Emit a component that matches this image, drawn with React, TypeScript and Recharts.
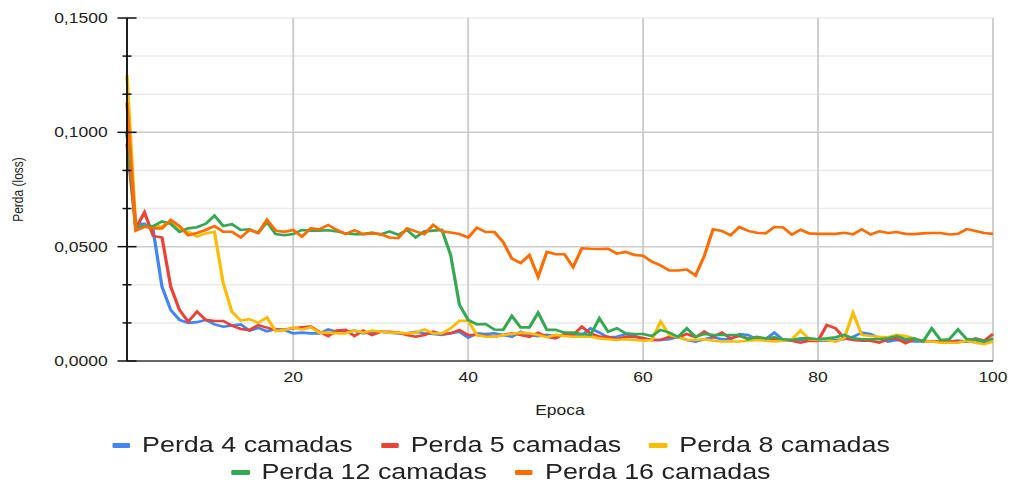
import React from "react";
import { LineChart, Line, XAxis, YAxis, ReferenceLine } from "recharts";

// epochs 1..100
const epochs = Array.from({ length: 100 }, (_, i) => i + 1);

const perda4 = [
  0.1, 0.06, 0.06, 0.057, 0.0325, 0.0223, 0.018, 0.0167, 0.017, 0.018,
  0.016, 0.015, 0.0155, 0.016, 0.0132, 0.0145, 0.013, 0.014, 0.0135, 0.0121,
  0.0124, 0.0121, 0.0121, 0.0138, 0.0128, 0.0128, 0.0133, 0.0121, 0.0128, 0.0128,
  0.0124, 0.0121, 0.0121, 0.0128, 0.0121, 0.0118, 0.0114, 0.0121, 0.0128, 0.0102,
  0.0121, 0.0118, 0.0121, 0.0114, 0.0106, 0.0128, 0.0114, 0.0109, 0.0114, 0.0109,
  0.0114, 0.0114, 0.0114, 0.0143, 0.0124, 0.0104, 0.0106, 0.0118, 0.0109, 0.0099,
  0.0092, 0.0092, 0.0095, 0.0106, 0.0092, 0.0085, 0.0095, 0.0104, 0.0095, 0.0095,
  0.0118, 0.0114, 0.0095, 0.0095, 0.0124, 0.0092, 0.0092, 0.0092, 0.0095, 0.0089,
  0.0089, 0.0092, 0.0095, 0.0106, 0.0124, 0.0118, 0.0099, 0.0085, 0.0092, 0.0089,
  0.0085, 0.0085, 0.0085, 0.0085, 0.0085, 0.0089, 0.0085, 0.0092, 0.0078, 0.0085,
];

const perda5 = [
  0.095, 0.058, 0.065, 0.0547, 0.054, 0.0325, 0.0223, 0.0172, 0.0216, 0.018,
  0.0175, 0.0175, 0.0155, 0.014, 0.0135, 0.0157, 0.0146, 0.0135, 0.0138, 0.0143,
  0.0147, 0.015, 0.0128, 0.0109, 0.0133, 0.0136, 0.0109, 0.0133, 0.0114, 0.0128,
  0.0128, 0.0124, 0.0114, 0.0106, 0.0114, 0.0128, 0.0118, 0.0121, 0.0136, 0.0114,
  0.0114, 0.0109, 0.0106, 0.0114, 0.0121, 0.0114, 0.0106, 0.0124, 0.0106, 0.0099,
  0.0118, 0.0114, 0.015, 0.0121, 0.0106, 0.0106, 0.0095, 0.0106, 0.0106, 0.0099,
  0.0092, 0.0092, 0.0106, 0.0104, 0.0118, 0.0104, 0.0128, 0.0106, 0.0124, 0.0099,
  0.0109, 0.0099, 0.0095, 0.0099, 0.0095, 0.0092, 0.0089, 0.008, 0.0089, 0.0088,
  0.0157, 0.0143, 0.0099, 0.0092, 0.0089, 0.0089, 0.008, 0.0095, 0.0099, 0.0078,
  0.0095, 0.0089, 0.0085, 0.0085, 0.0085, 0.0085, 0.0085, 0.0099, 0.0089, 0.0118,
];

const perda8 = [
  0.125, 0.0587, 0.059, 0.0587, 0.059, 0.0608, 0.057, 0.0565, 0.0544, 0.0558,
  0.0565, 0.034, 0.0215, 0.0177, 0.0183, 0.0167, 0.019, 0.0131, 0.0135, 0.0147,
  0.0138, 0.0147, 0.0124, 0.0124, 0.0121, 0.0121, 0.0133, 0.0124, 0.0133, 0.0128,
  0.0124, 0.0124, 0.0121, 0.0124, 0.0138, 0.0121, 0.0121, 0.0143, 0.0176, 0.0176,
  0.0114, 0.0106, 0.0106, 0.0114, 0.0118, 0.0124, 0.0121, 0.0114, 0.0104, 0.0114,
  0.0109, 0.0106, 0.0106, 0.0106, 0.0099, 0.0095, 0.0092, 0.0095, 0.0092, 0.0089,
  0.0092, 0.0172, 0.0114, 0.0104, 0.0092, 0.0092, 0.0095, 0.0089, 0.0085, 0.0085,
  0.0085, 0.0089, 0.0092, 0.0089, 0.0085, 0.0089, 0.0095, 0.0133, 0.0095, 0.0092,
  0.0092, 0.0085, 0.0099, 0.0211, 0.0114, 0.0109, 0.0106, 0.0104, 0.0114, 0.0109,
  0.0099, 0.0085, 0.0085, 0.008, 0.008, 0.008, 0.0089, 0.008, 0.0074, 0.0085,
];

const perda12 = [
  0.1, 0.0587, 0.059, 0.059, 0.061, 0.06, 0.0565, 0.058, 0.0585, 0.06,
  0.0636, 0.059, 0.0598, 0.0573, 0.0576, 0.056, 0.0608, 0.0555, 0.055, 0.0555,
  0.0573, 0.057, 0.057, 0.0572, 0.0567, 0.0558, 0.0555, 0.0555, 0.0562, 0.0553,
  0.0567, 0.0552, 0.0573, 0.054, 0.0567, 0.057, 0.0573, 0.0464, 0.0246, 0.018,
  0.016, 0.0162, 0.0138, 0.0136, 0.0197, 0.0147, 0.0147, 0.0211, 0.0136, 0.0136,
  0.0124, 0.0124, 0.0118, 0.0114, 0.0187, 0.0128, 0.0143, 0.0121, 0.0118, 0.0118,
  0.0109, 0.0136, 0.0124, 0.0106, 0.0143, 0.0106, 0.0118, 0.0114, 0.0114, 0.0114,
  0.0114, 0.0095, 0.0106, 0.0099, 0.0104, 0.0095, 0.0092, 0.0099, 0.0099, 0.0095,
  0.0099, 0.0104, 0.0114, 0.0099, 0.0095, 0.0095, 0.0095, 0.0099, 0.0109, 0.0095,
  0.0099, 0.0085, 0.0143, 0.0092, 0.0095, 0.0138, 0.0095, 0.0095, 0.0085, 0.0099,
];

const perda16 = [
  0.113, 0.057, 0.0587, 0.058, 0.058, 0.0617, 0.059, 0.055, 0.056, 0.0573,
  0.059, 0.0565, 0.0565, 0.054, 0.0573, 0.056, 0.0617, 0.057, 0.0565, 0.0573,
  0.0544, 0.058, 0.0576, 0.0595, 0.0573, 0.0555, 0.0572, 0.0555, 0.0558, 0.0555,
  0.054, 0.0537, 0.058, 0.0567, 0.0555, 0.0595, 0.0567, 0.0562, 0.0555, 0.054,
  0.0583, 0.0564, 0.0564, 0.052, 0.0448, 0.0428, 0.0463, 0.0368, 0.0477, 0.0467,
  0.0467, 0.0411, 0.0493, 0.0491, 0.049, 0.0491, 0.047, 0.0477, 0.0464, 0.046,
  0.0434, 0.0418, 0.0396, 0.0396, 0.04, 0.0374, 0.046, 0.0576, 0.0569, 0.055,
  0.0586, 0.0569, 0.0561, 0.0558, 0.0586, 0.0584, 0.0553, 0.0574, 0.0558, 0.0556,
  0.0556, 0.0556, 0.0561, 0.0554, 0.0576, 0.0553, 0.0567, 0.056, 0.0564, 0.0556,
  0.0555, 0.0558, 0.056, 0.056, 0.0553, 0.0556, 0.0577, 0.0569, 0.056, 0.0556,
];

const xTicks = [20, 40, 60, 80, 100];
const yMajorTicks = [0, 0.05, 0.1, 0.15];
const yMinorTicks = [0.0166667, 0.0333333, 0.0666667, 0.0833333, 0.1166667, 0.1333333];

const series = [
  { key: "p4", name: "Perda 4 camadas", color: "#4285f4", values: perda4 },
  { key: "p5", name: "Perda 5 camadas", color: "#ea4335", values: perda5 },
  { key: "p8", name: "Perda 8 camadas", color: "#fbbc04", values: perda8 },
  { key: "p12", name: "Perda 12 camadas", color: "#34a853", values: perda12 },
  { key: "p16", name: "Perda 16 camadas", color: "#ff6d01", values: perda16 },
];

const data = epochs.map((epoch, i) => {
  const row: Record<string, number> = { epoch };
  series.forEach((s) => (row[s.key] = s.values[i]));
  return row;
});

// the reference picture is stretched sideways, so the whole chart is drawn narrower and scaled
const STRETCH = 1.25;
const W = 1014 / STRETCH;
const H = 483;

const fmt = (v: number) => v.toFixed(4).replace(".", ",");

function YTick({ x, y, payload }: any) {
  const major = yMajorTicks.some((t) => Math.abs(t - payload.value) < 1e-6);
  const half = major ? 7.6 : 3.6;
  return (
    <g>
      <line x1={x - half} x2={x + half} y1={y} y2={y} stroke="#111" strokeWidth={1.5} />
      {major && (
        <text x={x - 15.5} y={y} dy="0.35em" textAnchor="end" fontSize={14} fill="#222">
          {fmt(payload.value)}
        </text>
      )}
    </g>
  );
}

function XTick({ x, y, payload }: any) {
  return (
    <text x={x} y={y + 16} dy="0.35em" textAnchor="middle" fontSize={14} fill="#222">
      {payload.value}
    </text>
  );
}

export default function App() {
  return (
    <div
      style={{
        position: "absolute",
        left: 0,
        top: 0,
        width: W,
        height: H,
        transform: `scaleX(${STRETCH})`,
        transformOrigin: "0 0",
        fontFamily: '"Liberation Sans", Arial, sans-serif',
        background: "#fff",
      }}
    >
      <LineChart
        width={W}
        height={H}
        data={data}
        margin={{ top: 18, right: 16.8, left: 0, bottom: 61 }}
      >
        {yMinorTicks.map((v) => (
          <ReferenceLine key={"m" + v} y={v} stroke="#ebebeb" strokeWidth={1.5} />
        ))}
        <ReferenceLine y={0.15} stroke="#ebebeb" strokeWidth={1.5} />
        <ReferenceLine y={0.05} stroke="#cccccc" strokeWidth={1.5} />
        <ReferenceLine y={0.1} stroke="#cccccc" strokeWidth={1.5} />
        {xTicks.map((v) => (
          <ReferenceLine key={"x" + v} x={v} stroke="#cccccc" strokeWidth={1.5} />
        ))}
        <XAxis
          dataKey="epoch"
          type="number"
          domain={[1, 100]}
          ticks={xTicks}
          interval={0}
          height={61}
          tickLine={false}
          tickSize={0}
          tickMargin={0}
          axisLine={{ stroke: "#333", strokeWidth: 1.5 }}
          tick={<XTick />}
          label={{
            content: ({ viewBox }: any) => (
              <text
                x={viewBox.x + viewBox.width / 2}
                y={viewBox.y + 49}
                dy="0.35em"
                textAnchor="middle"
                fontSize={14}
                fill="#222"
              >
                Epoca
              </text>
            ),
          }}
        />
        <YAxis
          type="number"
          domain={[0, 0.15]}
          ticks={[...yMajorTicks, ...yMinorTicks].sort((a, b) => a - b)}
          interval={0}
          width={101.6}
          tickLine={false}
          tickSize={0}
          tickMargin={0}
          axisLine={{ stroke: "#111", strokeWidth: 1.5 }}
          tick={<YTick />}
          label={{
            content: ({ viewBox }: any) => (
              <text
                transform={`translate(14.4, ${viewBox.y + viewBox.height / 2}) rotate(-90)`}
                dy="0.35em"
                textAnchor="middle"
                fontSize={12}
                fill="#222"
              >
                Perda (loss)
              </text>
            ),
          }}
        />
        {series.map((s) => (
          <Line
            key={s.key}
            type="linear"
            dataKey={s.key}
            name={s.name}
            stroke={s.color}
            strokeWidth={2.6}
            dot={false}
            activeDot={false}
            isAnimationActive={false}
          />
        ))}
      </LineChart>
      <div
        style={{
          position: "absolute",
          left: 0,
          top: 431.5,
          width: 801.6,
          display: "flex",
          flexWrap: "wrap",
          justifyContent: "center",
          columnGap: 22.4,
          lineHeight: "27px",
          fontSize: 21.5,
          color: "#222",
        }}
      >
        {series.map((s) => (
          <div key={s.key} style={{ display: "flex", alignItems: "center" }}>
            <span
              style={{
                display: "inline-block",
                width: 14.4,
                height: 5,
                borderRadius: 1,
                background: s.color,
                marginRight: 9.6,
              }}
            />
            <span>{s.name}</span>
          </div>
        ))}
      </div>
    </div>
  );
}
